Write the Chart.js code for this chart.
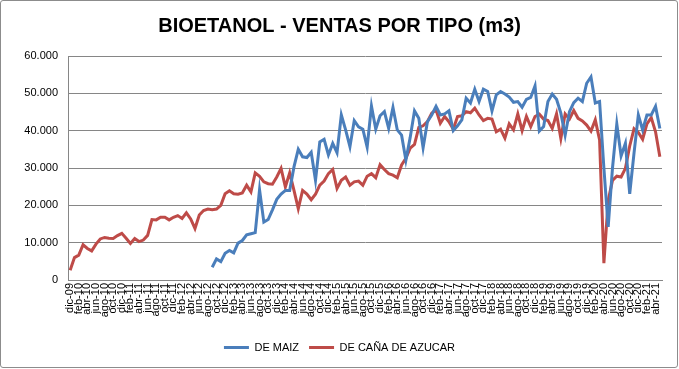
<!DOCTYPE html>
<html><head><meta charset="utf-8">
<script src="https://cdn.jsdelivr.net/npm/chart.js@4"></script>
<style>
html,body{margin:0;padding:0;background:#fff;}
#wrap{position:relative;width:679px;height:369px;}
#frame{position:absolute;left:0;top:0;width:676px;height:366px;border:1px solid #8c8c8c;border-radius:3px;pointer-events:none;}
canvas{position:absolute;left:0;top:0}
</style></head><body>
<div id="wrap"><canvas id="c" width="679" height="369"></canvas><div id="frame"></div></div>
<script>
const categories = [
 'dic-09',
 'ene-10','feb-10','mar-10','abr-10','may-10','jun-10','jul-10','ago-10','sep-10','oct-10','nov-10','dic-10',
 'ene-11','feb-11','mar-11','abr-11','may-11','jun-11','jul-11','ago-11','sep-11','oct-11','nov-11','dic-11',
 'ene-12','feb-12','mar-12','abr-12','may-12','jun-12','jul-12','ago-12','sep-12','oct-12','nov-12','dic-12',
 'ene-13','feb-13','mar-13','abr-13','may-13','jun-13','jul-13','ago-13','sep-13','oct-13','nov-13','dic-13',
 'ene-14','feb-14','mar-14','abr-14','may-14','jun-14','jul-14','ago-14','sep-14','oct-14','nov-14','dic-14',
 'ene-15','feb-15','mar-15','abr-15','may-15','jun-15','jul-15','ago-15','sep-15','oct-15','nov-15','dic-15',
 'ene-16','feb-16','mar-16','abr-16','may-16','jun-16','jul-16','ago-16','sep-16','oct-16','nov-16','dic-16',
 'ene-17','feb-17','mar-17','abr-17','may-17','jun-17','jul-17','ago-17','sep-17','oct-17','nov-17','dic-17',
 'ene-18','feb-18','mar-18','abr-18','may-18','jun-18','jul-18','ago-18','sep-18','oct-18','nov-18','dic-18',
 'ene-19','feb-19','mar-19','abr-19','may-19','jun-19','jul-19','ago-19','sep-19','oct-19','nov-19','dic-19',
 'ene-20','feb-20','mar-20','abr-20','may-20','jun-20','jul-20','ago-20','sep-20','oct-20','nov-20','dic-20',
 'ene-21','feb-21','mar-21','abr-21','may-21'
];
const yTickValues = [0, 10000, 20000, 30000, 40000, 50000, 60000];
const yTickLabels = ['0', '10.000', '20.000', '30.000', '40.000', '50.000', '60.000'];

const deMaiz = [
 null,null,null,null,null,null,null,null,null,null,
 null,null,null,null,null,null,null,null,null,null,
 null,null,null,null,null,null,null,null,null,null,
 null,null,null,
 3400,5650,4930,7170,7900,7260,9870,10580,12100,12400,12700,24200,15500,16200,18800,21600,23000,24000,24000,
 30300,35000,33000,32800,34200,26700,37000,37700,33500,36600,34100,44200,40200,35700,42700,41000,40400,35600,
 46600,40400,44000,45100,40600,46200,40200,38800,32100,38200,45300,43300,35400,42400,44200,46500,44200,44500,
 45300,40000,41300,42900,48700,47400,51100,47800,51100,50500,45300,49600,50500,49800,49000,47600,47800,46300,
 48400,48900,52000,39900,41100,47800,49800,48400,44700,38800,45100,47500,48700,47800,52700,54400,47400,47800,
 30000,14200,30000,41800,33200,36600,23100,34000,44200,40200,44200,44200,46500,40600
];
const deCanaDeAzucar = [
 2600,6000,6650,9430,8450,7800,9600,11000,11400,11200,11100,11900,12500,11200,9800,11100,10300,10700,11950,16200,
 16100,16800,16800,16100,16800,17250,16500,18000,16350,13800,17400,18600,19000,18800,19000,20000,23100,23900,23100,23000,
 23300,25400,23600,28700,27800,26300,25800,25650,27600,29900,24900,28700,24000,19100,24000,23000,21500,23000,25400,26500,
 28500,29600,24500,26700,27600,25400,26300,26500,25400,27800,28500,27400,30900,29600,28500,28100,27400,30800,32600,35300,
 36300,40900,41300,42400,44700,45600,42000,43800,42400,40400,43800,44000,45100,44800,46000,44200,42700,43300,43100,39700,
 40400,38000,41800,40200,44500,40000,43800,41100,43800,44400,43100,42700,40600,44500,37900,44500,43100,45400,43300,42600,
 41500,39900,42900,37500,4500,21300,26700,27800,27600,29900,35900,40500,39500,37700,41800,43500,39700,33000
];

const FONT = 'Liberation Sans';
const GRID = '#868686';

new Chart(document.getElementById('c').getContext('2d'), {
  type: 'line',
  data: {
    labels: categories,
    datasets: [
      { label: 'DE MAIZ', data: deMaiz, borderColor: '#4A7EBB', backgroundColor: '#4A7EBB',
        borderWidth: 3, pointRadius: 0, tension: 0, spanGaps: false },
      { label: 'DE CAÑA DE AZUCAR', data: deCanaDeAzucar, borderColor: '#BE4B48', backgroundColor: '#BE4B48',
        borderWidth: 3, pointRadius: 0, tension: 0 }
    ]
  },
  options: {
    responsive: false,
    animation: false,
    devicePixelRatio: 1,
    layout: { padding: { left: 0, right: 0, top: 0, bottom: 6 } },
    plugins: {
      title: { display: true, text: 'BIOETANOL - VENTAS POR TIPO (m3)', color: '#000',
        font: { family: FONT, size: 20, weight: 'bold' }, padding: { top: 14, bottom: 18 } },
      legend: { position: 'bottom',
        labels: { usePointStyle: true, pointStyle: 'line', pointStyleWidth: 25, color: '#000',
          font: { family: FONT, size: 11 }, padding: 10 } },
      tooltip: { enabled: false }
    },
    scales: {
      x: {
        offset: true,
        grid: { display: false, drawTicks: false },
        border: { color: GRID, width: 1 },
        ticks: { autoSkip: false, minRotation: 90, maxRotation: 90, padding: 3, color: '#000',
          font: { family: FONT, size: 11 },
          callback: (v, i) => (i % 2 === 0 ? categories[i] : '') },
        afterFit: s => { s.height = 52; }
      },
      y: {
        min: 0, max: 60000,
        afterBuildTicks: s => { s.ticks = yTickValues.map(v => ({ value: v })); },
        ticks: { color: '#000', padding: 10, font: { family: FONT, size: 11 },
          callback: v => yTickLabels[yTickValues.indexOf(v)] },
        grid: { color: GRID, drawTicks: false },
        border: { color: GRID, width: 1 },
        afterFit: s => { s.width = 68; }
      },
      y2: {
        type: 'linear', position: 'right', min: 0, max: 1,
        grid: { display: false, drawTicks: false }, border: { display: false },
        ticks: { display: false },
        afterFit: s => { s.width = 17; }
      }
    }
  }
});
</script>
</body></html>
